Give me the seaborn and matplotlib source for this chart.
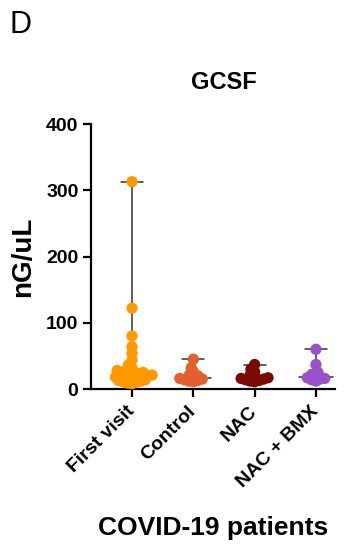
import matplotlib
matplotlib.use("Agg")
import matplotlib.pyplot as plt
import seaborn as sns
import numpy as np
import pandas as pd

categories = ["First visit", "Control", "NAC", "NAC + BMX"]
first_visit = [313, 122, 80, 64, 54, 44, 36, 32, 28, 26, 25, 24, 23, 22, 22,
               21, 20, 19, 18, 18, 17, 16, 15, 14, 13, 12, 11, 10, 9, 8]
control = [45, 32, 26, 22, 20, 18, 16, 15, 14, 13, 12, 11]
nac = [37, 30, 26, 22, 19, 17, 16, 15, 14, 13, 12, 11]
nac_bmx = [60, 37, 25, 22, 19, 17, 16, 15, 14, 12]
colors = ["#FF9900", "#E35F2E", "#7A0A00", "#9A50C8"]
yticks = [0, 100, 200, 300, 400]

values = [first_visit, control, nac, nac_bmx]
df = pd.DataFrame({
    "group": np.concatenate([[c] * len(v) for c, v in zip(categories, values)]),
    "value": np.concatenate(values),
})

sns.set_style("ticks")
plt.rcParams["font.family"] = ["Liberation Sans", "DejaVu Sans"]
plt.rcParams["font.weight"] = "bold"
plt.rcParams["text.color"] = "black"
plt.rcParams["axes.labelcolor"] = "black"
plt.rcParams["xtick.color"] = "black"
plt.rcParams["ytick.color"] = "black"

fig = plt.figure(figsize=(3.47, 5.49), dpi=100)
ax = fig.add_axes([0.2622, 0.2914, 0.703, 0.4827])

# range lines (min-max), caps and median
for i, v in enumerate(values):
    lo, hi, med = min(v), max(v), float(np.median(v))
    ax.plot([i, i], [lo, hi], color="#333333", lw=1.1, zorder=1, solid_capstyle="butt")
    ax.plot([i - 0.18, i + 0.18], [hi, hi], color="#333333", lw=1.1, zorder=1)
    ax.plot([i - 0.28, i + 0.28], [med, med], color="#333333", lw=1.1, zorder=1)

sns.swarmplot(data=df, x="group", y="value", hue="group", order=categories,
              hue_order=categories, palette=colors, size=3.2, legend=False,
              ax=ax, zorder=3, warn_thresh=1)

ax.set_xlim(-0.67, 3.31)
ax.set_ylim(0, 400)

# compute swarm layout with small markers, then enlarge (overlapping dots)
fig.canvas.draw()
for coll in ax.collections:
    if "draw" in coll.__dict__:
        del coll.draw
    coll.set_sizes([66])
    coll.set_clip_on(False)
    coll.set_linewidth(0)

ax.set_yticks(yticks)
ax.set_yticklabels([str(t) for t in yticks], fontsize=14, fontweight="bold")
ax.set_xticks(range(len(categories)))
ax.set_xticklabels(categories, fontsize=14, fontweight="bold", rotation=45,
                   ha="right", va="center", rotation_mode="anchor")
for sp in ["top", "right"]:
    ax.spines[sp].set_visible(False)
for sp in ["left", "bottom"]:
    ax.spines[sp].set_linewidth(1.6)
    ax.spines[sp].set_color("black")
ax.tick_params(axis="both", length=6, width=1.6, color="black", pad=3)
ax.tick_params(axis="x", pad=8)

ax.set_xlabel("COVID-19 patients", fontsize=19, fontweight="bold")
ax.xaxis.set_label_coords(0.5, -0.48)
ax.set_ylabel("nG/uL", fontsize=20, fontweight="bold", va="center")
ax.yaxis.set_label_coords(-0.279, 0.5)

ax.text(0.545, 1.155, "GCSF", transform=ax.transAxes, ha="center", va="center",
        fontsize=17, fontweight="bold")
fig.text(0.028, 0.955, "D", fontsize=22, fontweight="normal", ha="left", va="center")

fig.savefig("out.png", dpi=100)
